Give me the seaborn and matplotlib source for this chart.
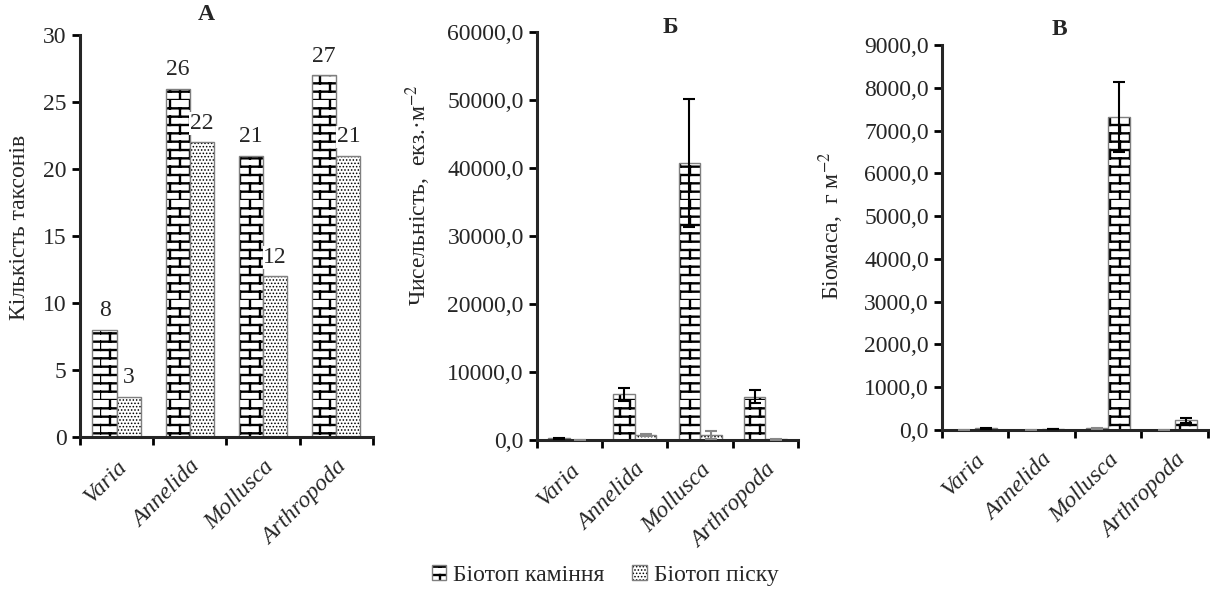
import warnings
import numpy as np
import pandas as pd
import matplotlib
matplotlib.use('Agg')
import matplotlib.pyplot as plt
from matplotlib import hatch as mhatch
from matplotlib.path import Path
from matplotlib.patches import Patch
from matplotlib.ticker import FuncFormatter
import seaborn as sns

warnings.filterwarnings('ignore')

# data
categories = ['Varia', 'Annelida', 'Mollusca', 'Arthropoda']
habitats = ['Біотоп каміння', 'Біотоп піску']

# A - number of taxa
taxa_stone = [8, 26, 21, 27]
taxa_sand = [3, 22, 12, 21]

# Б - abundance, ind./m2
abund_stone = [250, 6700, 40700, 6400]
abund_stone_err = [60, 900, 9400, 1000]
abund_sand = [20, 800, 800, 100]
abund_sand_err = [10, 150, 600, 30]

# В - biomass, g/m2
biom_stone = [40, 25, 7310, 230]
biom_stone_err = [10, 5, 820, 60]
biom_sand = [5, 5, 40, 5]
biom_sand_err = [2, 2, 10, 2]


# brick hatch ("b") - not built into matplotlib
class BrickHatch(mhatch.HatchPatternBase):
    rows = 12
    cols = 5

    def __init__(self, hatch, density):
        self.on = 'b' in hatch
        self.num_vertices = (self.rows * 2 + self.rows * self.cols * 2) if self.on else 0

    def set_vertices_and_codes(self, vertices, codes):
        pts = []
        for k in range(self.rows):
            y = k / self.rows
            pts += [(0, y), (1, y)]
        for k in range(self.rows):
            y0, y1 = k / self.rows, (k + 1) / self.rows
            for j in range(self.cols):
                x = (j + 0.5 * (k % 2)) / self.cols
                pts += [(x, y0), (x, y1)]
        vertices[:] = pts
        codes[0::2] = Path.MOVETO
        codes[1::2] = Path.LINETO


mhatch._hatch_types.append(BrickHatch)

sns.set_style('ticks')
plt.rcParams['font.family'] = ['Liberation Serif', 'DejaVu Serif']
plt.rcParams['mathtext.fontset'] = 'stix'
plt.rcParams['hatch.linewidth'] = 1.6
plt.rcParams['axes.linewidth'] = 2.2

hatches = {'Біотоп каміння': 'b', 'Біотоп піску': '.....'}
hatch_lw = {'Біотоп каміння': 1.7, 'Біотоп піску': 0.7}
FS = 17


def comma_fmt(v, pos):
    return f'{v:.1f}'.replace('.', ',')


def style_patch(p, name):
    p.set_hatch(hatches[name])
    p.set_edgecolor('#7f7f7f')
    p.set_linewidth(1.0)
    p._hatch_color = (0, 0, 0, 1)
    p.set_hatch_linewidth(hatch_lw[name])


def draw_panel(ax, stone, sand, order, stone_err=None, sand_err=None):
    df = pd.DataFrame({
        'group': categories * 2,
        'habitat': [habitats[0]] * 4 + [habitats[1]] * 4,
        'value': list(stone) + list(sand),
    })
    sns.barplot(data=df, x='group', y='value', hue='habitat', hue_order=order,
                order=categories, errorbar=None, width=0.66, legend=False,
                palette=['white', 'white'], ax=ax)
    errs = {habitats[0]: stone_err, habitats[1]: sand_err}
    ecols = {habitats[0]: 'black', habitats[1]: '#888888'}
    for cont, name in zip(ax.containers, order):
        for p in cont:
            style_patch(p, name)
        if errs[name] is not None:
            xs = [p.get_x() + p.get_width() / 2 for p in cont]
            ys = [p.get_height() for p in cont]
            ax.errorbar(xs, ys, yerr=errs[name], fmt='none', ecolor=ecols[name],
                        elinewidth=1.5, capsize=4.5, capthick=1.5, zorder=5)
    ax.set_xlim(-0.5, 3.5)
    ax.set_xticks(np.arange(-0.5, 4), labels=[])
    ax.set_xticks(range(4), labels=categories, minor=True)
    ax.tick_params(axis='x', which='minor', length=0, labelsize=FS, pad=14)
    for t in ax.get_xticklabels(minor=True):
        t.set_rotation(45)
        t.set_ha('right')
        t.set_rotation_mode('anchor')
        t.set_fontstyle('italic')
    ax.tick_params(axis='both', which='major', length=6, width=2, labelsize=FS,
                   color='black')
    ax.set_xlabel('')
    sns.despine(ax=ax)


fig = plt.figure(figsize=(12.1, 5.99), dpi=100)
axA = fig.add_axes([0.0661, 0.2705, 0.2421, 0.6711])
axB = fig.add_axes([0.4438, 0.2654, 0.2157, 0.6812])
axC = fig.add_axes([0.7785, 0.2820, 0.2198, 0.6430])

# A
draw_panel(axA, taxa_stone, taxa_sand, habitats)
axA.set_ylim(0, 30)
axA.set_yticks(range(0, 31, 5))
for cont in axA.containers:
    axA.bar_label(cont, padding=6, fontsize=FS,
                  bbox=dict(fc='white', ec='none', pad=0.5))
axA.set_ylabel('Кількість таксонів', fontsize=FS)
axA.yaxis.set_label_coords(-0.17, 0.52)
axA.text(0.43, 1.05, 'А', transform=axA.transAxes, ha='center', va='center',
         fontsize=FS, fontweight='bold')

# Б
draw_panel(axB, abund_stone, abund_sand, habitats, abund_stone_err, abund_sand_err)
axB.set_ylim(0, 60000)
axB.set_yticks(range(0, 60001, 10000))
axB.yaxis.set_major_formatter(FuncFormatter(comma_fmt))
axB.set_ylabel('Чисельність,  екз.·м$^{-2}$', fontsize=FS)
axB.yaxis.set_label_coords(-0.40, 0.60)
axB.text(0.51, 1.012, 'Б', transform=axB.transAxes, ha='center', va='center',
         fontsize=FS, fontweight='bold')

# В (sand drawn on the left here, as in the source)
draw_panel(axC, biom_stone, biom_sand, habitats[::-1], biom_stone_err, biom_sand_err)
axC.set_ylim(0, 9000)
axC.set_yticks(range(0, 9001, 1000))
axC.yaxis.set_major_formatter(FuncFormatter(comma_fmt))
axC.set_ylabel('Біомаса,  г м$^{-2}$', fontsize=FS)
axC.yaxis.set_label_coords(-0.36, 0.53)
axC.text(0.44, 1.04, 'В', transform=axC.transAxes, ha='center', va='center',
         fontsize=FS, fontweight='bold')

handles = [Patch(facecolor='white', edgecolor='#7f7f7f', hatch=hatches[h], label=h)
           for h in habitats]
leg = fig.legend(handles=handles, loc='center', bbox_to_anchor=(0.5, 0.04), ncol=2,
                 frameon=False, fontsize=FS, handlelength=0.6, handleheight=0.6,
                 handletextpad=0.3, columnspacing=1.2)
for p, h in zip(leg.get_patches(), habitats):
    style_patch(p, h)

fig.savefig('out.png', dpi=100)
